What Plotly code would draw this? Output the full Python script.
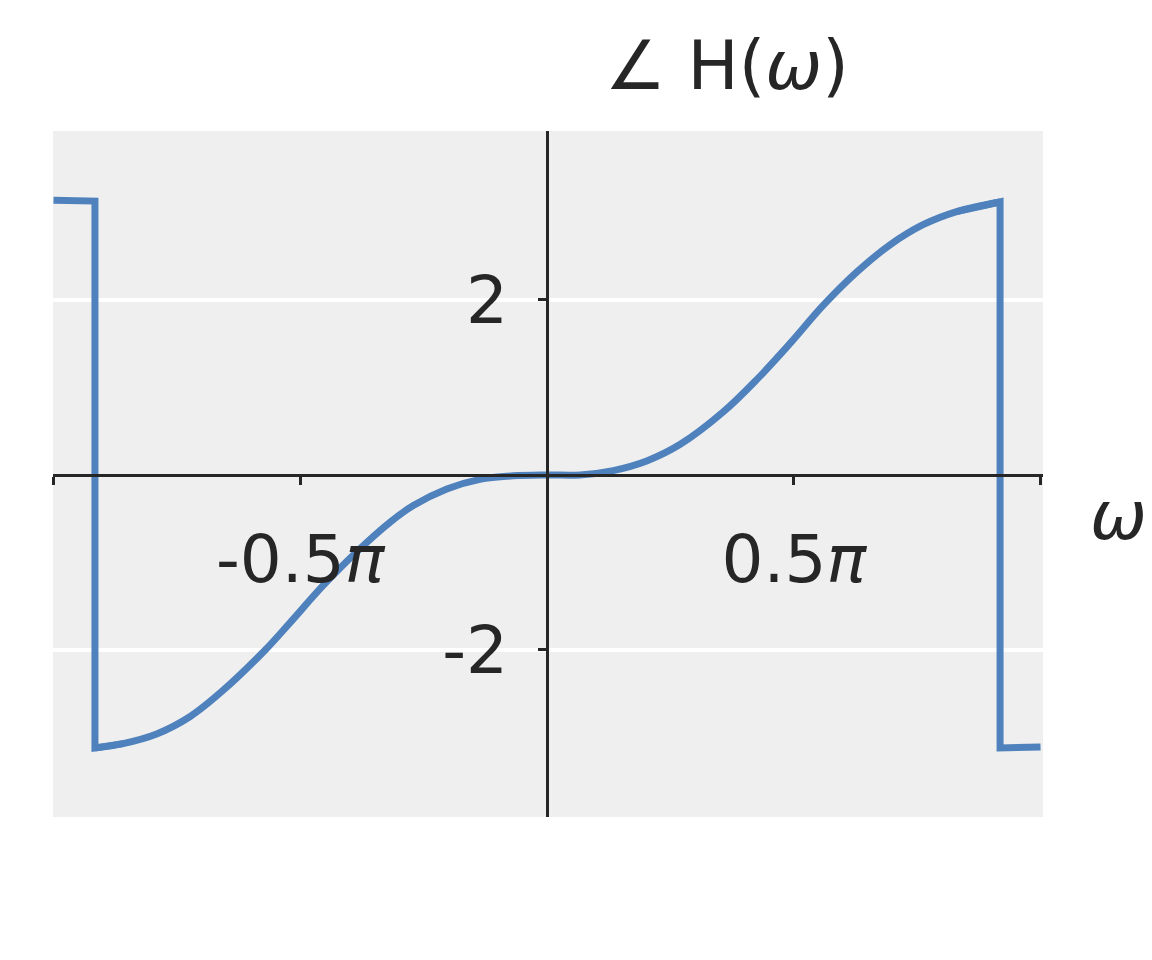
import plotly.graph_objects as go

# omega in units of pi, phase in radians
omega_pi = [-1.0, -0.916, -0.916, -0.859, -0.791, -0.723, -0.656, -0.571, -0.521, -0.453,
            -0.386, -0.318, -0.271, -0.203, -0.136, -0.069, 0.0, 0.067, 0.134, 0.202,
            0.270, 0.357, 0.425, 0.492, 0.560, 0.628, 0.695, 0.762, 0.830, 0.918,
            0.918, 1.0]
phase = [3.14, 3.13, -3.12, -3.07, -2.96, -2.76, -2.46, -2.00, -1.69, -1.26,
         -0.88, -0.54, -0.35, -0.16, -0.05, -0.01, 0.0, 0.0, 0.05, 0.16,
         0.35, 0.72, 1.09, 1.50, 1.94, 2.32, 2.63, 2.86, 3.01, 3.12,
         -3.12, -3.11]

x_tickvals = [-1.0, -0.5, 0.5, 1.0]
x_ticktext = ["", "-0.5<i>π</i>", "0.5<i>π</i>", ""]
y_tickvals = [-2, 2]
y_ticktext = ["-2", "2"]

x_range = [-1.001, 1.005]
y_range = [-3.909, 3.931]

FONT = "DejaVu Sans"
DARK = "#262626"
BLUE = "#4f81bd"

W, H = 1144, 952
L, T, PW, PH = 45, 123, 990, 686

fig = go.Figure()
# smooth middle part (between the two wrap jumps) drawn as a spline
fig.add_trace(go.Scatter(x=omega_pi[2:-2], y=phase[2:-2], mode="lines",
                         line=dict(color=BLUE, width=7, shape="spline", smoothing=1),
                         showlegend=False))
# wrap jumps and flat ends drawn as straight segments
fig.add_trace(go.Scatter(x=omega_pi[:4], y=phase[:4], mode="lines",
                         line=dict(color=BLUE, width=7), showlegend=False))
fig.add_trace(go.Scatter(x=omega_pi[-4:], y=phase[-4:], mode="lines",
                         line=dict(color=BLUE, width=7), showlegend=False))

xpos = (0 - y_range[0]) / (y_range[1] - y_range[0])
ypos = (0 - x_range[0]) / (x_range[1] - x_range[0])

fig.update_layout(
    width=W, height=H,
    margin=dict(l=L, r=W - L - PW, t=T, b=H - T - PH),
    paper_bgcolor="white", plot_bgcolor="#efefef",
    font=dict(family=FONT, color=DARK, size=66),
    xaxis=dict(range=x_range, anchor="free", position=xpos, showgrid=False, zeroline=False,
               showline=True, linecolor=DARK, linewidth=2.5,
               tickmode="array", tickvals=x_tickvals, ticktext=x_ticktext,
               ticks="outside", ticklen=8, tickwidth=2.5, tickcolor=DARK,
               tickfont=dict(family=FONT, size=66, color=DARK), ticklabelstandoff=18),
    yaxis=dict(range=y_range, anchor="free", position=ypos, showgrid=True, gridcolor="white",
               gridwidth=4, zeroline=False,
               showline=True, linecolor=DARK, linewidth=2.5,
               tickmode="array", tickvals=y_tickvals, ticktext=y_ticktext,
               ticks="outside", ticklen=8, tickwidth=2.5, tickcolor=DARK,
               tickfont=dict(family=FONT, size=66, color=DARK), ticklabelstandoff=17),
    annotations=[
        dict(text="∠ H(<i>ω</i>)", x=(727 - 8 - L) / PW, y=(T + PH - (65 - 8)) / PH,
             xref="paper", yref="paper", xanchor="center", yanchor="middle",
             showarrow=False, font=dict(family=FONT, size=68, color=DARK)),
        dict(text="<i>ω</i>", x=(1118 - 8 - L) / PW, y=(T + PH - (515 - 8)) / PH,
             xref="paper", yref="paper", xanchor="center", yanchor="middle",
             showarrow=False, font=dict(family=FONT, size=68, color=DARK)),
    ],
)

fig.write_html("out.html")
